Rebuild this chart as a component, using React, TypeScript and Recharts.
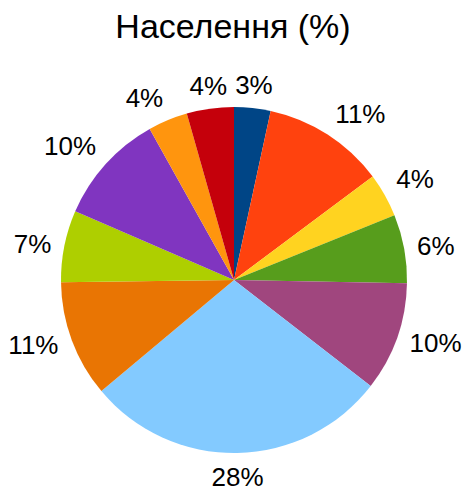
import React from "react";
import { PieChart, Pie, Cell } from "recharts";

const categories = ["1", "2", "3", "4", "5", "6", "7", "8", "9", "10", "11"];
const values = [3.4, 11.4, 4.1, 6.4, 10.2, 28.4, 10.9, 6.7, 10.4, 3.7, 4.4];
const colors = [
  "#004586", "#ff420e", "#ffd320", "#579d1c", "#a0467e", "#83caff",
  "#e97503", "#aecf00", "#8035c0", "#ff950e", "#c5000b",
];
const title = "Населення (%)";

const data = categories.map((name, i) => ({ name, value: values[i] }));

const FS = 26;
const FONT = "'Liberation Sans', Arial, sans-serif";

const renderLabel = (props: any) => {
  const { cx, cy, midAngle, outerRadius, value } = props;
  const rad = (midAngle * Math.PI) / 180;
  const dx = Math.cos(rad);
  const dy = -Math.sin(rad);
  const R = outerRadius + 14;
  const px = cx + R * dx;
  const py = cy + R * dy;
  const text = `${Math.round(value)}%`;
  const digits = text.length - 1;
  const w = FS * (0.556 * digits + 0.889) - FS * 0.06;
  const h = FS * 0.716;
  const t = 0.37;
  const fx = Math.abs(dx) < t ? 0 : Math.sign(dx);
  const fy = Math.abs(dy) < t ? 0 : Math.sign(dy);
  const centerX = px + (fx * w) / 2;
  const centerY = py + (fy * h) / 2;
  return (
    <text
      x={centerX}
      y={centerY + h / 2}
      textAnchor="middle"
      fontSize={FS}
      fontFamily={FONT}
      fill="#000"
    >
      {text}
    </text>
  );
};

export default function App() {
  return (
    <div style={{ position: "absolute", left: 0, top: 0, width: 463, height: 490, background: "#fff" }}>
      <svg width={463} height={60} style={{ position: "absolute", left: 0, top: 0 }}>
        <text x={233} y={38} textAnchor="middle" fontSize={34} fontFamily={FONT} fill="#000">
          {title}
        </text>
      </svg>
      <div style={{ position: "absolute", left: 0, top: 0 }}>
        <PieChart width={463} height={490} margin={{ top: 0, right: 0, bottom: 0, left: 0 }} style={{ overflow: "visible" }}>
          <Pie
            data={data}
            dataKey="value"
            nameKey="name"
            cx={234}
            cy={280}
            outerRadius={173}
            startAngle={90}
            endAngle={-270}
            stroke="none"
            label={renderLabel}
            labelLine={false}
            isAnimationActive={false}
          >
            {data.map((d, i) => (
              <Cell key={d.name} fill={colors[i]} />
            ))}
          </Pie>
        </PieChart>
      </div>
    </div>
  );
}
